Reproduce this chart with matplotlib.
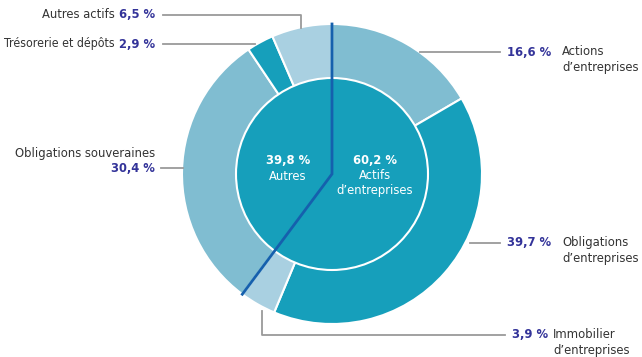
import numpy as np
import matplotlib.pyplot as plt

# outer ring, clockwise from the top
categories = ["Actions\nd\u2019entreprises", "Obligations\nd\u2019entreprises",
              "Immobilier\nd\u2019entreprises", "Obligations souveraines",
              "Tr\u00e9sorerie et d\u00e9p\u00f4ts", "Autres actifs"]
values = [16.6, 39.7, 3.9, 30.4, 2.9, 6.5]
value_labels = ["16,6 %", "39,7 %", "3,9 %", "30,4 %", "2,9 %", "6,5 %"]

# inner groups
groups = ["Actifs\nd\u2019entreprises", "Autres"]
group_values = [60.2, 39.8]
group_labels = ["60,2 %", "39,8 %"]

light = "#80bdd1"
teal = "#169fbb"
pale = "#a9d0e1"
colors = [light, teal, pale, light, teal, pale]
name_col = "#333333"
pct_col = "#333399"
lead_col = "#9a9a9a"
line_col = "#1560ad"

plt.rcParams["font.family"] = ["DejaVu Sans"]
plt.rcParams["font.stretch"] = "condensed"

W, H = 642, 357
fig = plt.figure(figsize=(W / 100, H / 100), dpi=100)
ax = fig.add_axes([0, 0, 1, 1])

def Y(py):
    return H - py

cx, cy = 332, Y(174)
R, r = 150, 96

ax.pie(values, colors=colors, startangle=90, counterclock=False,
       center=(cx, cy), radius=R,
       wedgeprops=dict(edgecolor="white", linewidth=1.5))
ax.set_xlim(0, W)
ax.set_ylim(0, H)
ax.set_aspect("equal")
ax.axis("off")

inner = plt.Circle((cx, cy), r, facecolor=teal, edgecolor="white", lw=1.5, zorder=3)
ax.add_patch(inner)

# dividing line between the two groups
ang = np.deg2rad(90 - group_values[0] / 100 * 360)
ax.plot([cx, cx, cx + R * np.cos(ang)], [cy + R, cy, cy + R * np.sin(ang)],
        color=line_col, lw=2, zorder=4, solid_joinstyle="miter")

fs = 9.3
ls = 1.3
# inner texts
ax.text(375, Y(160), group_labels[0], color="white", fontsize=fs, fontweight="bold",
        ha="center", va="center", zorder=5)
ax.text(375, Y(169), groups[0], color="white", fontsize=fs, ha="center", va="top",
        linespacing=ls - 0.1, zorder=5)
ax.text(288, Y(160), group_labels[1], color="white", fontsize=fs, fontweight="bold",
        ha="center", va="center", zorder=5)
ax.text(288, Y(176), groups[1], color="white", fontsize=fs, ha="center", va="center",
        zorder=5)

def lead(xs, ys):
    ax.plot(xs, [Y(v) for v in ys], color=lead_col, lw=1.3, zorder=2)

# right side labels
right = [(0, 52, 507, 562), (1, 243, 507, 562), (2, 335, 512, 553)]
for i, py, px, nx in right:
    ax.text(px, Y(py), value_labels[i], color=pct_col, fontsize=fs, fontweight="bold",
            ha="left", va="center")
    ax.text(nx, Y(py) + 7, categories[i], color=name_col, fontsize=fs,
            ha="left", va="top", linespacing=ls)
lead([420, 500], [52, 52])
lead([470, 500], [243, 243])
lead([262, 262, 505], [311, 335, 335])

# left side labels
fig.canvas.draw()
rend = fig.canvas.get_renderer()
for i, py in [(5, 15), (4, 44)]:
    t = ax.text(155, Y(py), value_labels[i], color=pct_col, fontsize=fs,
                fontweight="bold", ha="right", va="center")
    bb = t.get_window_extent(rend)
    x0 = ax.transData.inverted().transform((bb.x0, bb.y0))[0]
    ax.text(x0 - 4, Y(py), categories[i], color=name_col,
            fontsize=fs if i == 5 else 8.8, ha="right", va="center")
lead([163, 301, 301], [15, 15, 28])
lead([163, 255], [44, 44])

ax.text(155, Y(153), categories[3], color=name_col, fontsize=fs, ha="right", va="center")
ax.text(155, Y(168), value_labels[3], color=pct_col, fontsize=fs, fontweight="bold",
        ha="right", va="center")
lead([161, 183], [168, 168])

fig.savefig("out.png", dpi=100)
